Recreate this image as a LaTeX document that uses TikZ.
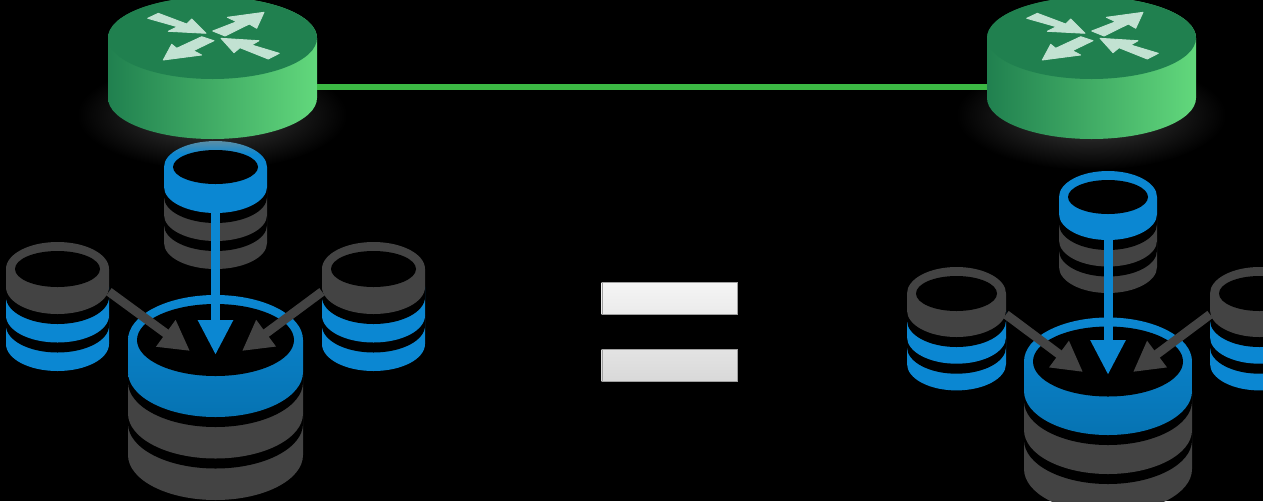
\documentclass[tikz,border=0pt]{standalone}
\usepackage{tikz}
\usetikzlibrary{arrows.meta,positioning}

\definecolor{dbgrey}{HTML}{434343}
\definecolor{dbblue}{HTML}{0B87D2}
\definecolor{dbdeep}{HTML}{0673B2}
\definecolor{dbdim}{HTML}{5A8EA6}
\definecolor{rtrdark}{HTML}{20804F}
\definecolor{rtrlight}{HTML}{62D87C}
\definecolor{rtrmark}{HTML}{C2E2D2}
\definecolor{linkgreen}{HTML}{3CB944}

\pgfdeclareverticalshading{ringdim}{100bp}{color(0bp)=(dbblue); color(66bp)=(dbblue); color(75bp)=(dbdim); color(100bp)=(dbdim)}

\tikzset{
  grey/.style={fill=dbgrey},
  blue/.style={fill=dbblue},
  bigblue/.style={top color=dbblue,bottom color=dbdeep},
  dimblue/.style={shading=ringdim},
  dbbox/.style={inner sep=0pt,outer sep=0pt},
  routerbox/.style={inner sep=0pt,outer sep=0pt,minimum width=4.18cm,minimum height=2.08cm},
  routerside/.style={left color=rtrdark,right color=rtrlight},
  glow/.style={inner color=black!75!white,outer color=black},
  link/.style={draw=linkgreen,line width=.12cm},
  bluearrow/.style={draw=dbblue,line width=.18cm,-{Triangle[length=.7cm,width=.66cm]}},
  greyarrow/.style={draw=dbgrey,line width=.18cm,-{Triangle[length=.6cm,width=.62cm]}},
  eqbar/.style={draw=gray!75,line width=.2pt,inner sep=0pt,minimum width=2.7cm,minimum height=.64cm}
}

% one disc: cx, top y, bottom y, rx, ry, style
\newcommand{\dbdisc}[6]{%
  \path[#6] (#1-#4,#2) arc[start angle=180,end angle=360,x radius=#4,y radius=#5]
    -- (#1+#4,#3) arc[start angle=0,end angle=180,x radius=#4,y radius=#5] -- cycle;}

% whole stack: cx, cy, rx, ry, first bottom, layer step, top style, lower style, name
\newcommand{\dbstack}[9]{%
  \dbdisc{#1}{#5+#6}{#5+2*#6}{#3}{#4}{#8}
  \dbdisc{#1}{#5}{#5+#6+10}{#3}{#4}{fill=black}
  \dbdisc{#1}{#5}{#5+#6}{#3}{#4}{#8}
  \dbdisc{#1}{#2}{#5+10}{#3}{#4}{fill=black}
  \dbdisc{#1}{#2}{#5}{#3}{#4}{#7}
  \fill[black] (#1,#2) ellipse[x radius=#3-9,y radius=#4-9];
  \node[dbbox,minimum width=#3*.04cm,minimum height=(#5+2*#6+#4+#4-#2)*.02cm] (#9)
    at (#1,{(#2+#5+2*#6)/2}) {};}

% router drum with its four marks: cx, name
\newcommand{\router}[2]{%
  \dbdisc{#1}{38}{98}{104.5}{41}{routerside}
  \fill[rtrdark] (#1,38) ellipse[x radius=104.5,y radius=41];
  \node[routerbox] (#2) at (#1,87) {};
  \begin{scope}[shift={(#1,0)},fill=rtrmark,draw=rtrmark,line width=.5pt,line join=round]
    \filldraw (-64.8,18.3) -- (-54.2,13.3) -- (-25.8,24) -- (-20.8,19) -- (-6.5,33.3) -- (-44.2,31.3) -- (-35.2,26.7) -- cycle;
    \filldraw (.2,31) -- (24.2,21.7) -- (14.8,17.3) -- (51.5,12.3) -- (44.2,28.3) -- (36.8,24) -- (12.5,36) -- cycle;
    \filldraw (-10.8,36.7) -- (-35.8,48.3) -- (-40.8,44.3) -- (-49.2,60) -- (-10.8,55) -- (-19.2,50.7) -- (1.5,40.7) -- cycle;
    \filldraw (8.5,38.3) -- (46.5,40.7) -- (39.2,45) -- (66.8,53.3) -- (55.8,59) -- (27.5,47.7) -- (21.5,52.7) -- cycle;
  \end{scope}}

\begin{document}
\begin{tikzpicture}[x=.02cm,y=-.02cm]
  \useasboundingbox (0,0) rectangle (1263,501);
  \clip (0,0) rectangle (1263,501);
  \fill[black] (0,0) rectangle (1263,501);

  \shade[glow] (212,115) ellipse[x radius=135,y radius=55];
  \shade[glow] (1091,115) ellipse[x radius=135,y radius=55];

  % left group
  \dbstack{215.5}{167}{51.5}{26}{187}{28}{dimblue}{grey}{dbTopA}
  \dbstack{57.5}{269}{51.5}{27}{287}{28.5}{grey}{blue}{dbLeftA}
  \dbstack{373.5}{269}{51.5}{27}{287}{28.5}{grey}{blue}{dbRightA}
  \dbstack{215.5}{340}{87.5}{45}{372}{41.5}{bigblue}{grey}{dbMainA}

  % right group
  \dbstack{1108}{197}{49}{26}{214}{26.5}{blue}{grey}{dbTopB}
  \dbstack{956.5}{293.5}{49.5}{26.5}{310.5}{26.7}{grey}{blue}{dbLeftB}
  \dbstack{1259.5}{293.5}{49.5}{26.5}{310.5}{26.7}{grey}{blue}{dbRightB}
  \dbstack{1108}{361.5}{84}{44}{391}{39}{bigblue}{grey}{dbMainB}

  \coordinate (tipTopA) at (215.5,355);
  \coordinate (tipLeftA) at (190,351);
  \coordinate (tipRightA) at (242,351);
  \coordinate (tipTopB) at (1108,375);
  \coordinate (tipLeftB) at (1083,372);
  \coordinate (tipRightB) at (1133,372);

  \draw[bluearrow] (dbTopA.center) -- (tipTopA);
  \draw[greyarrow] (dbLeftA.16) -- (tipLeftA);
  \draw[greyarrow] (dbRightA.164) -- (tipRightA);
  \draw[bluearrow] (dbTopB.center) -- (tipTopB);
  \draw[greyarrow] (dbLeftB.16) -- (tipLeftB);
  \draw[greyarrow] (dbRightB.164) -- (tipRightB);

  \router{212.5}{rtrA}
  \router{1091.5}{rtrB}
  \draw[link] (rtrA.east) -- (rtrB.west);

  \node[eqbar,top color=white!96!black,bottom color=white!92!black] (eqTop) at (669.2,298.3) {};
  \node[eqbar,top color=white!89!black,bottom color=white!85!black] (eqBot) at (669.2,365.2) {};
\end{tikzpicture}
\end{document}
